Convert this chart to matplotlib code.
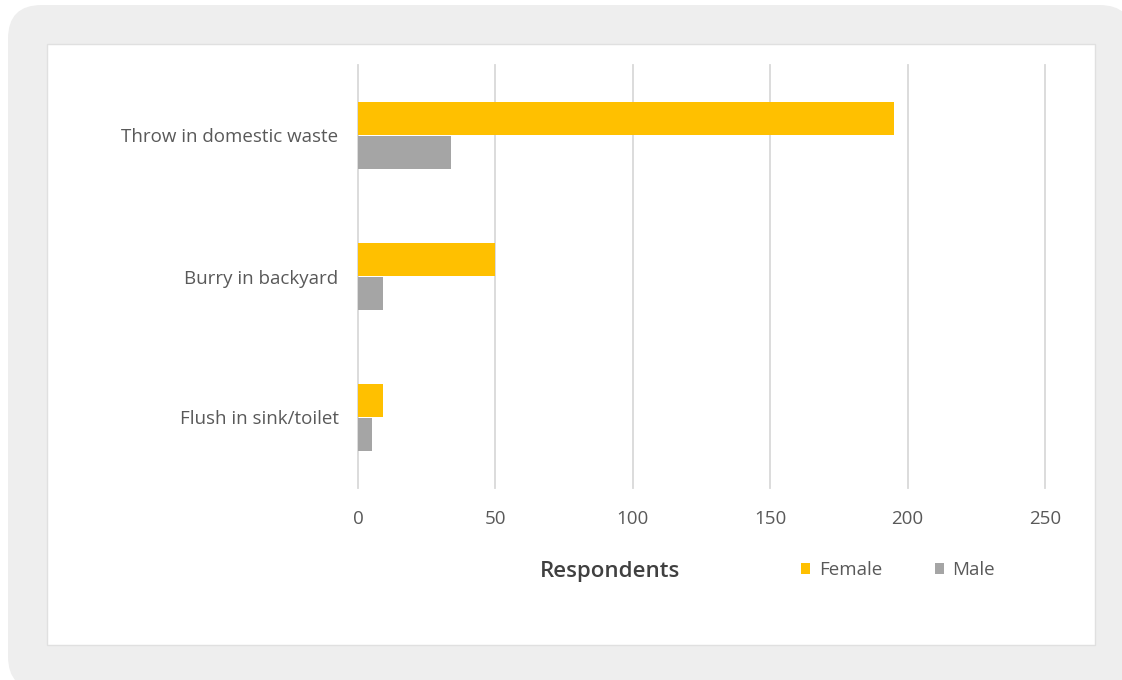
import numpy as np
import matplotlib.pyplot as plt
from matplotlib.patches import FancyBboxPatch, Rectangle

categories = ["Throw in domestic waste", "Burry in backyard", "Flush in sink/toilet"]
female = [195, 50, 9]
male = [34, 9, 5]
x_ticks = [0, 50, 100, 150, 200, 250]

plt.rcParams['font.family'] = ['Open Sans', 'DejaVu Sans']

fig = plt.figure(figsize=(11.22, 6.8), dpi=100)
fig.patch.set_facecolor('white')

# grey rounded frame and white card
fig.patches.append(FancyBboxPatch((8 / 1122, -10 / 680), 1125 / 1122, 685 / 680,
                                  boxstyle="round,pad=0,rounding_size=0.03",
                                  transform=fig.transFigure, facecolor='#eeeeee',
                                  edgecolor='none', zorder=-10, mutation_aspect=1122 / 680))
fig.patches.append(Rectangle((47 / 1122, 1 - 645 / 680), 1048 / 1122, 601 / 680,
                             transform=fig.transFigure, facecolor='white',
                             edgecolor='#e0e0e0', linewidth=1, zorder=-9))

ax = fig.add_axes([358 / 1122, 1 - 488 / 680, 687 / 1122, 423 / 680])
ax.patch.set_alpha(0)

y = np.arange(len(categories))
h = 0.24
ax.barh(y - h / 2, female, height=h, color='#FFC000', label='Female', zorder=3)
ax.barh(y + h / 2, male, height=h, color='#A5A5A5', label='Male', zorder=3)

ax.set_xlim(0, 250)
ax.set_ylim(2.5, -0.5)
ax.set_xticks(x_ticks)
ax.set_yticks(y)
ax.set_yticklabels(categories)
for s in ax.spines.values():
    s.set_visible(False)
ax.xaxis.grid(True, color='#d9d9d9', linewidth=1.3, zorder=0)
for gl in ax.get_xgridlines():
    gl.set_clip_on(False)
ax.tick_params(axis='both', length=0, labelcolor='#595959', labelsize=13.5)
ax.tick_params(axis='x', pad=16)
ax.tick_params(axis='y', pad=14)

fig.text(610 / 1122, 1 - 572 / 680, 'Respondents', ha='center', va='center',
         fontsize=16, fontweight='semibold', color='#404040')
ax.legend(loc='center', bbox_to_anchor=(898 / 1122, 1 - 570 / 680),
          bbox_transform=fig.transFigure, ncol=2, frameon=False,
          handlelength=0.5, handleheight=0.5, handletextpad=0.45,
          columnspacing=2.8, labelcolor='#595959', fontsize=13.5)

plt.savefig('out.png', dpi=100)
